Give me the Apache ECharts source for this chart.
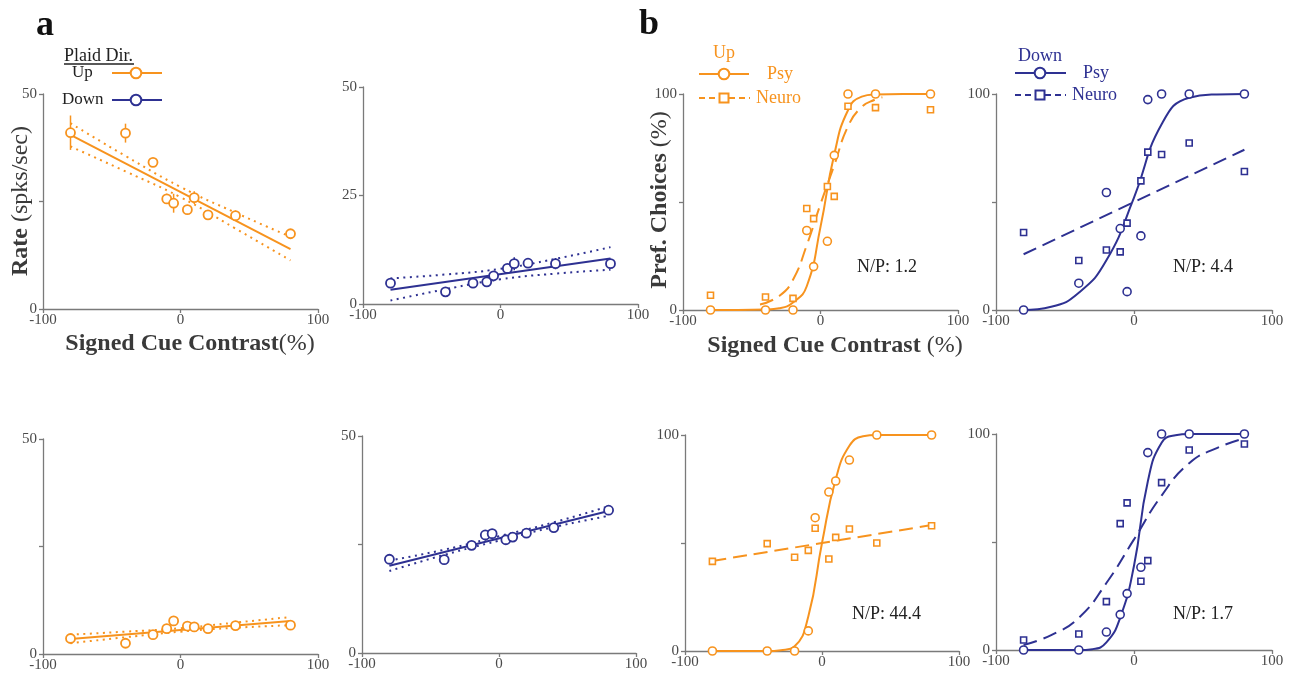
<!DOCTYPE html>
<html><head><meta charset="utf-8">
<script src="https://cdn.jsdelivr.net/npm/echarts@6/dist/echarts.min.js"></script>
<style>html,body{margin:0;padding:0;background:#fff;} #c{width:1298px;height:673px;}</style>
</head><body><div id="c"></div>
<script>
// ---------------- DATA ----------------
const contrast = [-80, -40, -20, -10, -5, 5, 10, 20, 40, 80];
const fitX = [-80, 80];
const ciX = [-80, -40, 0, 40, 80];
const xTickLabels = ['-100', '0', '100'];
const yTicksRateShown = [0, 50];
const yTicksRateShownAll = [0, 25, 50];
const yTicksPctShown = [0, 100];

// panel a, top row, Up
const rateUpTop = [41.0, 40.9, 34.1, 25.6, 24.6, 23.1, 25.9, 21.9, 21.7, 17.5];
const errUpTop = [4.0, 2.2, 1.0, 1.2, 2.2, 1.0, 1.5, 1.0, 1.2, 0.8];
const fitUpTop = [40.5, 13.9];
const ciUpTopHi = [43.2, 35.6, 28.4, 22.4, 16.8];
const ciUpTopLo = [37.8, 32.0, 26.0, 18.7, 11.3];
// panel a, top row, Down
const rateDownTop = [4.8, 2.8, 4.8, 5.1, 6.5, 8.2, 9.3, 9.4, 9.3, 9.3];
const errDownTop = [0.8, 0.5, 0.5, 1.2, 0.6, 0.8, 1.5, 1.0, 1.3, 1.0];
const fitDownTop = [3.3, 10.5];
const ciDownTopHi = [5.9, 6.8, 8.1, 10.4, 13.1];
const ciDownTopLo = [0.8, 3.4, 5.7, 7.0, 7.9];
// panel a, bottom row, Up
const rateUpBot = [3.6, 2.5, 4.5, 5.9, 7.7, 6.5, 6.3, 5.9, 6.6, 6.7];
const errUpBot = [0.7, 0.3, 0.5, 0.6, 0.5, 0.6, 0.6, 0.5, 1.0, 0.6];
const fitUpBot = [3.5, 7.7];
const ciUpBotHi = [4.5, 5.2, 6.0, 7.3, 8.6];
const ciUpBotLo = [2.5, 3.9, 5.2, 6.1, 6.7];
// panel a, bottom row, Down
const rateDownBot = [21.6, 21.5, 24.8, 27.2, 27.5, 26.1, 26.7, 27.6, 28.9, 32.9];
const errDownBot = [0.6, 0.5, 0.5, 0.6, 0.6, 0.7, 0.7, 0.6, 0.8, 1.0];
const fitDownBot = [20.1, 32.7];
const ciDownBotHi = [21.3, 23.8, 26.9, 30.1, 33.8];
const ciDownBotLo = [18.9, 22.6, 25.9, 29.0, 31.6];

// panel b, top row, Up
const psyUpTop = [0, 0, 0, 36.8, 20.1, 31.8, 71.6, 100, 100, 100];
const neuroUpTop = [6.8, 6.0, 5.4, 47.0, 42.3, 57.2, 52.6, 94.3, 93.7, 92.7];
const psyFitXUpTop = [-80, -60, -40, -30, -20, -10, 0, 10, 20, 30, 40, 60, 80];
const psyFitUpTop = [0, 0, 0.2, 0.8, 3.5, 11, 38.5, 72, 92.5, 98.8, 99.8, 100, 100];
const neuroFitXUpTop = [-44, -30, -20, -10, 0, 10, 20, 30, 40, 45];
const neuroFitUpTop = [2.5, 6.5, 14, 30, 49, 67, 85, 94, 97.5, 98.5];
const npUpTop = 'N/P: 1.2';
// panel b, top row, Down
const psyDownTop = [0, 12.4, 54.4, 37.7, 8.5, 34.3, 97.4, 100, 100, 100];
const neuroDownTop = [35.9, 22.9, 27.8, 26.9, 40.2, 59.8, 73.1, 72.0, 77.3, 64.1];
const psyFitXDownTop = [-80, -60, -40, -20, 0, 20, 40, 60, 80];
const psyFitDownTop = [0, 1.5, 8, 23, 52, 86, 98.3, 99.8, 100];
const neuroFitXDownTop = [-80, 0, 80];
const neuroFitDownTop = [25.8, 50, 74.2];
const npDownTop = 'N/P: 4.4';
// panel b, bottom row, Up
const psyUpBot = [0, 0, 0, 9.3, 61.7, 73.6, 78.7, 88.4, 100, 100];
const neuroUpBot = [41.5, 49.7, 43.4, 46.6, 56.8, 42.6, 52.6, 56.5, 50.0, 58.0];
const psyFitXUpBot = [-80, -60, -40, -30, -20, -10, 0, 10, 20, 30, 40, 60, 80];
const psyFitUpBot = [0, 0, 0, 0.4, 2.2, 16, 50, 79.5, 95, 99.4, 100, 100, 100];
const neuroFitXUpBot = [-80, 80];
const neuroFitUpBot = [41.7, 58.3];
const npUpBot = 'N/P: 44.4';
// panel b, bottom row, Down
const psyDownBot = [0, 0, 8.3, 16.4, 26.1, 38.3, 91.4, 100, 100, 100];
const neuroDownBot = [4.6, 7.4, 22.4, 58.5, 68.1, 31.8, 41.4, 77.5, 92.6, 95.4];
const psyFitXDownBot = [-80, -60, -40, -30, -20, -10, 0, 10, 20, 30, 40, 60, 80];
const psyFitDownBot = [0, 0, 0, 0.4, 3.5, 15, 39, 78, 96, 99.4, 100, 100, 100];
const neuroFitXDownBot = [-80, -60, -40, -20, 0, 20, 40, 60, 80];
const neuroFitDownBot = [2.3, 6.9, 14.9, 31, 51.2, 71.5, 86.5, 93.5, 98];
const npDownBot = 'N/P: 1.7';

// ---------------- STYLE / LAYOUT ----------------
const ORANGE = '#F7931E', BLUE = '#2E3192';
const FONT = 'Liberation Serif';
const AX = '#7a7a7a', LBL = '#4a4a4a';

const grids = [
  {left: 43, top: 94, width: 275, height: 215},
  {left: 363, top: 87, width: 275, height: 217},
  {left: 43, top: 439, width: 275, height: 216},
  {left: 362, top: 436, width: 274, height: 217},
  {left: 683, top: 94, width: 275, height: 216},
  {left: 996, top: 94, width: 276, height: 216},
  {left: 685, top: 435, width: 274, height: 216},
  {left: 996, top: 434, width: 276, height: 216}
];

const ratePanels = [
  {g: 0, c: ORANGE, y: rateUpTop, e: errUpTop, fit: fitUpTop, hi: ciUpTopHi, lo: ciUpTopLo, shown: yTicksRateShown},
  {g: 1, c: BLUE, y: rateDownTop, e: errDownTop, fit: fitDownTop, hi: ciDownTopHi, lo: ciDownTopLo, shown: yTicksRateShownAll},
  {g: 2, c: ORANGE, y: rateUpBot, e: errUpBot, fit: fitUpBot, hi: ciUpBotHi, lo: ciUpBotLo, shown: yTicksRateShown},
  {g: 3, c: BLUE, y: rateDownBot, e: errDownBot, fit: fitDownBot, hi: ciDownBotHi, lo: ciDownBotLo, shown: yTicksRateShown}
];
const choicePanels = [
  {g: 4, c: ORANGE, psy: psyUpTop, neuro: neuroUpTop, pfx: psyFitXUpTop, pf: psyFitUpTop, nfx: neuroFitXUpTop, nf: neuroFitUpTop},
  {g: 5, c: BLUE, psy: psyDownTop, neuro: neuroDownTop, pfx: psyFitXDownTop, pf: psyFitDownTop, nfx: neuroFitXDownTop, nf: neuroFitDownTop},
  {g: 6, c: ORANGE, psy: psyUpBot, neuro: neuroUpBot, pfx: psyFitXUpBot, pf: psyFitUpBot, nfx: neuroFitXUpBot, nf: neuroFitUpBot},
  {g: 7, c: BLUE, psy: psyDownBot, neuro: neuroDownBot, pfx: psyFitXDownBot, pf: psyFitDownBot, nfx: neuroFitXDownBot, nf: neuroFitDownBot}
];

const pairs = (xs, ys) => xs.map((x, i) => [x, ys[i]]);

const xAxes = grids.map((g, i) => ({
  type: 'value', gridIndex: i, min: -100, max: 100, interval: 100,
  axisLine: {show: true, onZero: false, lineStyle: {color: AX, width: 1.3}},
  axisTick: {show: true, length: 4, lineStyle: {color: AX, width: 1.3}},
  splitLine: {show: false},
  axisLabel: {margin: 4, color: LBL, fontFamily: FONT, fontSize: 15,
    formatter: v => xTickLabels[[-100, 0, 100].indexOf(v)] || ''}
}));
const yAxes = grids.map((g, i) => {
  const isRate = i < 4;
  const shown = isRate ? ratePanels[i].shown : yTicksPctShown;
  return {
    type: 'value', gridIndex: i, min: 0, max: isRate ? 50 : 100, interval: isRate ? 25 : 50,
    axisLine: {show: true, onZero: false, lineStyle: {color: AX, width: 1.3}},
    axisTick: {show: true, length: 4, lineStyle: {color: AX, width: 1.3}},
    splitLine: {show: false},
    axisLabel: {margin: 6, color: LBL, fontFamily: FONT, fontSize: 15,
      formatter: v => shown.indexOf(v) >= 0 ? String(v) : ''}
  };
});

const series = [];
ratePanels.forEach(p => {
  const ax = {xAxisIndex: p.g, yAxisIndex: p.g};
  [p.hi, p.lo].forEach(arr => series.push(Object.assign({
    type: 'line', data: pairs(ciX, arr), smooth: 0.5, showSymbol: false, silent: true,
    lineStyle: {color: p.c, width: 2, type: [2, 4.5]}, z: 2
  }, ax)));
  series.push(Object.assign({
    type: 'line', data: pairs(fitX, p.fit), showSymbol: false, silent: true,
    lineStyle: {color: p.c, width: 2}, z: 3
  }, ax));
  series.push(Object.assign({
    type: 'custom', data: contrast.map((x, i) => [x, p.y[i], p.e[i]]), z: 4, silent: true,
    renderItem: (params, api) => {
      const x = api.value(0), y = api.value(1), e = api.value(2);
      const a = api.coord([x, y + e]), b = api.coord([x, y - e]);
      return {type: 'line', shape: {x1: a[0], y1: a[1], x2: b[0], y2: b[1]},
        style: {stroke: p.c, lineWidth: 1.5}};
    }
  }, ax));
  series.push(Object.assign({
    type: 'scatter', data: pairs(contrast, p.y), symbol: 'circle', symbolSize: 9, z: 5,
    itemStyle: {color: '#fff', borderColor: p.c, borderWidth: 1.8, opacity: 1}
  }, ax));
});
choicePanels.forEach(p => {
  const ax = {xAxisIndex: p.g, yAxisIndex: p.g};
  series.push(Object.assign({
    type: 'line', data: pairs(p.nfx, p.nf), smooth: 0.5, showSymbol: false, silent: true,
    lineStyle: {color: p.c, width: 2, type: [14, 7]}, z: 2
  }, ax));
  series.push(Object.assign({
    type: 'line', data: pairs(p.pfx, p.pf), smooth: 0.5, showSymbol: false, silent: true,
    lineStyle: {color: p.c, width: 2}, z: 3
  }, ax));
  series.push(Object.assign({
    type: 'scatter', data: pairs(contrast, p.neuro), symbol: 'rect', symbolSize: 6, z: 5,
    itemStyle: {color: '#fff', borderColor: p.c, borderWidth: 1.6, opacity: 1}
  }, ax));
  series.push(Object.assign({
    type: 'scatter', data: pairs(contrast, p.psy), symbol: 'circle', symbolSize: 8, z: 5,
    itemStyle: {color: '#fff', borderColor: p.c, borderWidth: 1.6, opacity: 1}
  }, ax));
});

// ---------------- TEXT / LEGENDS ----------------
function txt(x, y, text, size, color, opts) {
  opts = opts || {};
  return {
    type: 'text', x: x, y: y, z: 100, rotation: opts.rot || 0,
    style: {text: text, fill: color, font: (opts.bold ? 'bold ' : '') + size + 'px "' + FONT + '"',
      align: opts.align || 'left', verticalAlign: 'middle',
      textAlign: opts.align || 'left', textVerticalAlign: 'middle'}
  };
}
function richTxt(x, y, text, size, color, align, rot) {
  return {
    type: 'text', x: x, y: y, z: 100, rotation: rot || 0,
    style: {text: text, fill: color, font: size + 'px "' + FONT + '"',
      align: align, verticalAlign: 'middle', textAlign: align, textVerticalAlign: 'middle',
      rich: {b: {fontWeight: 'bold', fontSize: size, fontFamily: FONT, fill: color, color: color},
             n: {fontSize: size, fontFamily: FONT, fill: color, color: color}}}
  };
}
const lineEl = (x1, y1, x2, y2, c, dash, w) => ({type: 'line', z: 100,
  shape: {x1: x1, y1: y1, x2: x2, y2: y2}, style: {stroke: c, lineWidth: w || 2, lineDash: dash || null}});
const circEl = (cx, cy, r, c) => ({type: 'circle', z: 101, shape: {cx: cx, cy: cy, r: r},
  style: {fill: '#fff', stroke: c, lineWidth: 2}});
const rectEl = (cx, cy, s, c) => ({type: 'rect', z: 101, shape: {x: cx - s / 2, y: cy - s / 2, width: s, height: s},
  style: {fill: '#fff', stroke: c, lineWidth: 2}});

const TXT = '#3a3a3a';
const graphics = [
  txt(36, 26, 'a', 36, '#111', {bold: true}),
  txt(639, 25, 'b', 36, '#111', {bold: true}),
  // panel a legend
  txt(64, 56, 'Plaid Dir.', 18, '#222'),
  lineEl(64, 64, 134, 64, '#222', null, 1.5),
  txt(72, 73, 'Up', 17, '#222'),
  lineEl(112, 73, 162, 73, ORANGE), circEl(136, 73, 5.3, ORANGE),
  txt(62, 100, 'Down', 17, '#222'),
  lineEl(112, 100, 162, 100, BLUE), circEl(136, 100, 5.3, BLUE),
  // axis titles
  richTxt(21, 201, '{b|Rate} (spks/sec)', 24, TXT, 'center', Math.PI / 2),
  richTxt(190, 344, '{b|Signed Cue Contrast}(%)', 24, TXT, 'center', 0),
  richTxt(660, 200, '{b|Pref. Choices} (%)', 24, TXT, 'center', Math.PI / 2),
  richTxt(835, 346, '{b|Signed Cue Contrast} (%)', 24, TXT, 'center', 0),
  // panel b legends
  txt(713, 53, 'Up', 18, ORANGE),
  lineEl(699, 74, 749, 74, ORANGE), circEl(724, 74, 5.3, ORANGE),
  txt(767, 74, 'Psy', 18, ORANGE),
  lineEl(699, 98, 750, 98, ORANGE, [6, 4]), rectEl(724, 98, 9, ORANGE),
  txt(756, 98, 'Neuro', 18, ORANGE),
  txt(1018, 56, 'Down', 18, BLUE),
  lineEl(1015, 73, 1066, 73, BLUE), circEl(1040, 73, 5.3, BLUE),
  txt(1083, 73, 'Psy', 18, BLUE),
  lineEl(1015, 95, 1066, 95, BLUE, [6, 4]), rectEl(1040, 95, 9, BLUE),
  txt(1072, 95, 'Neuro', 18, BLUE),
  // N/P ratios
  txt(857, 267, npUpTop, 18, '#222'),
  txt(1173, 267, npDownTop, 18, '#222'),
  txt(852, 614, npUpBot, 18, '#222'),
  txt(1173, 614, npDownBot, 18, '#222')
];

const chart = echarts.init(document.getElementById('c'), null, {renderer: 'canvas'});
chart.setOption({
  animation: false,
  backgroundColor: '#fff',
  grid: grids.map(g => Object.assign({containLabel: false}, g)),
  xAxis: xAxes,
  yAxis: yAxes,
  series: series,
  graphic: {elements: graphics}
});
</script></body></html>
